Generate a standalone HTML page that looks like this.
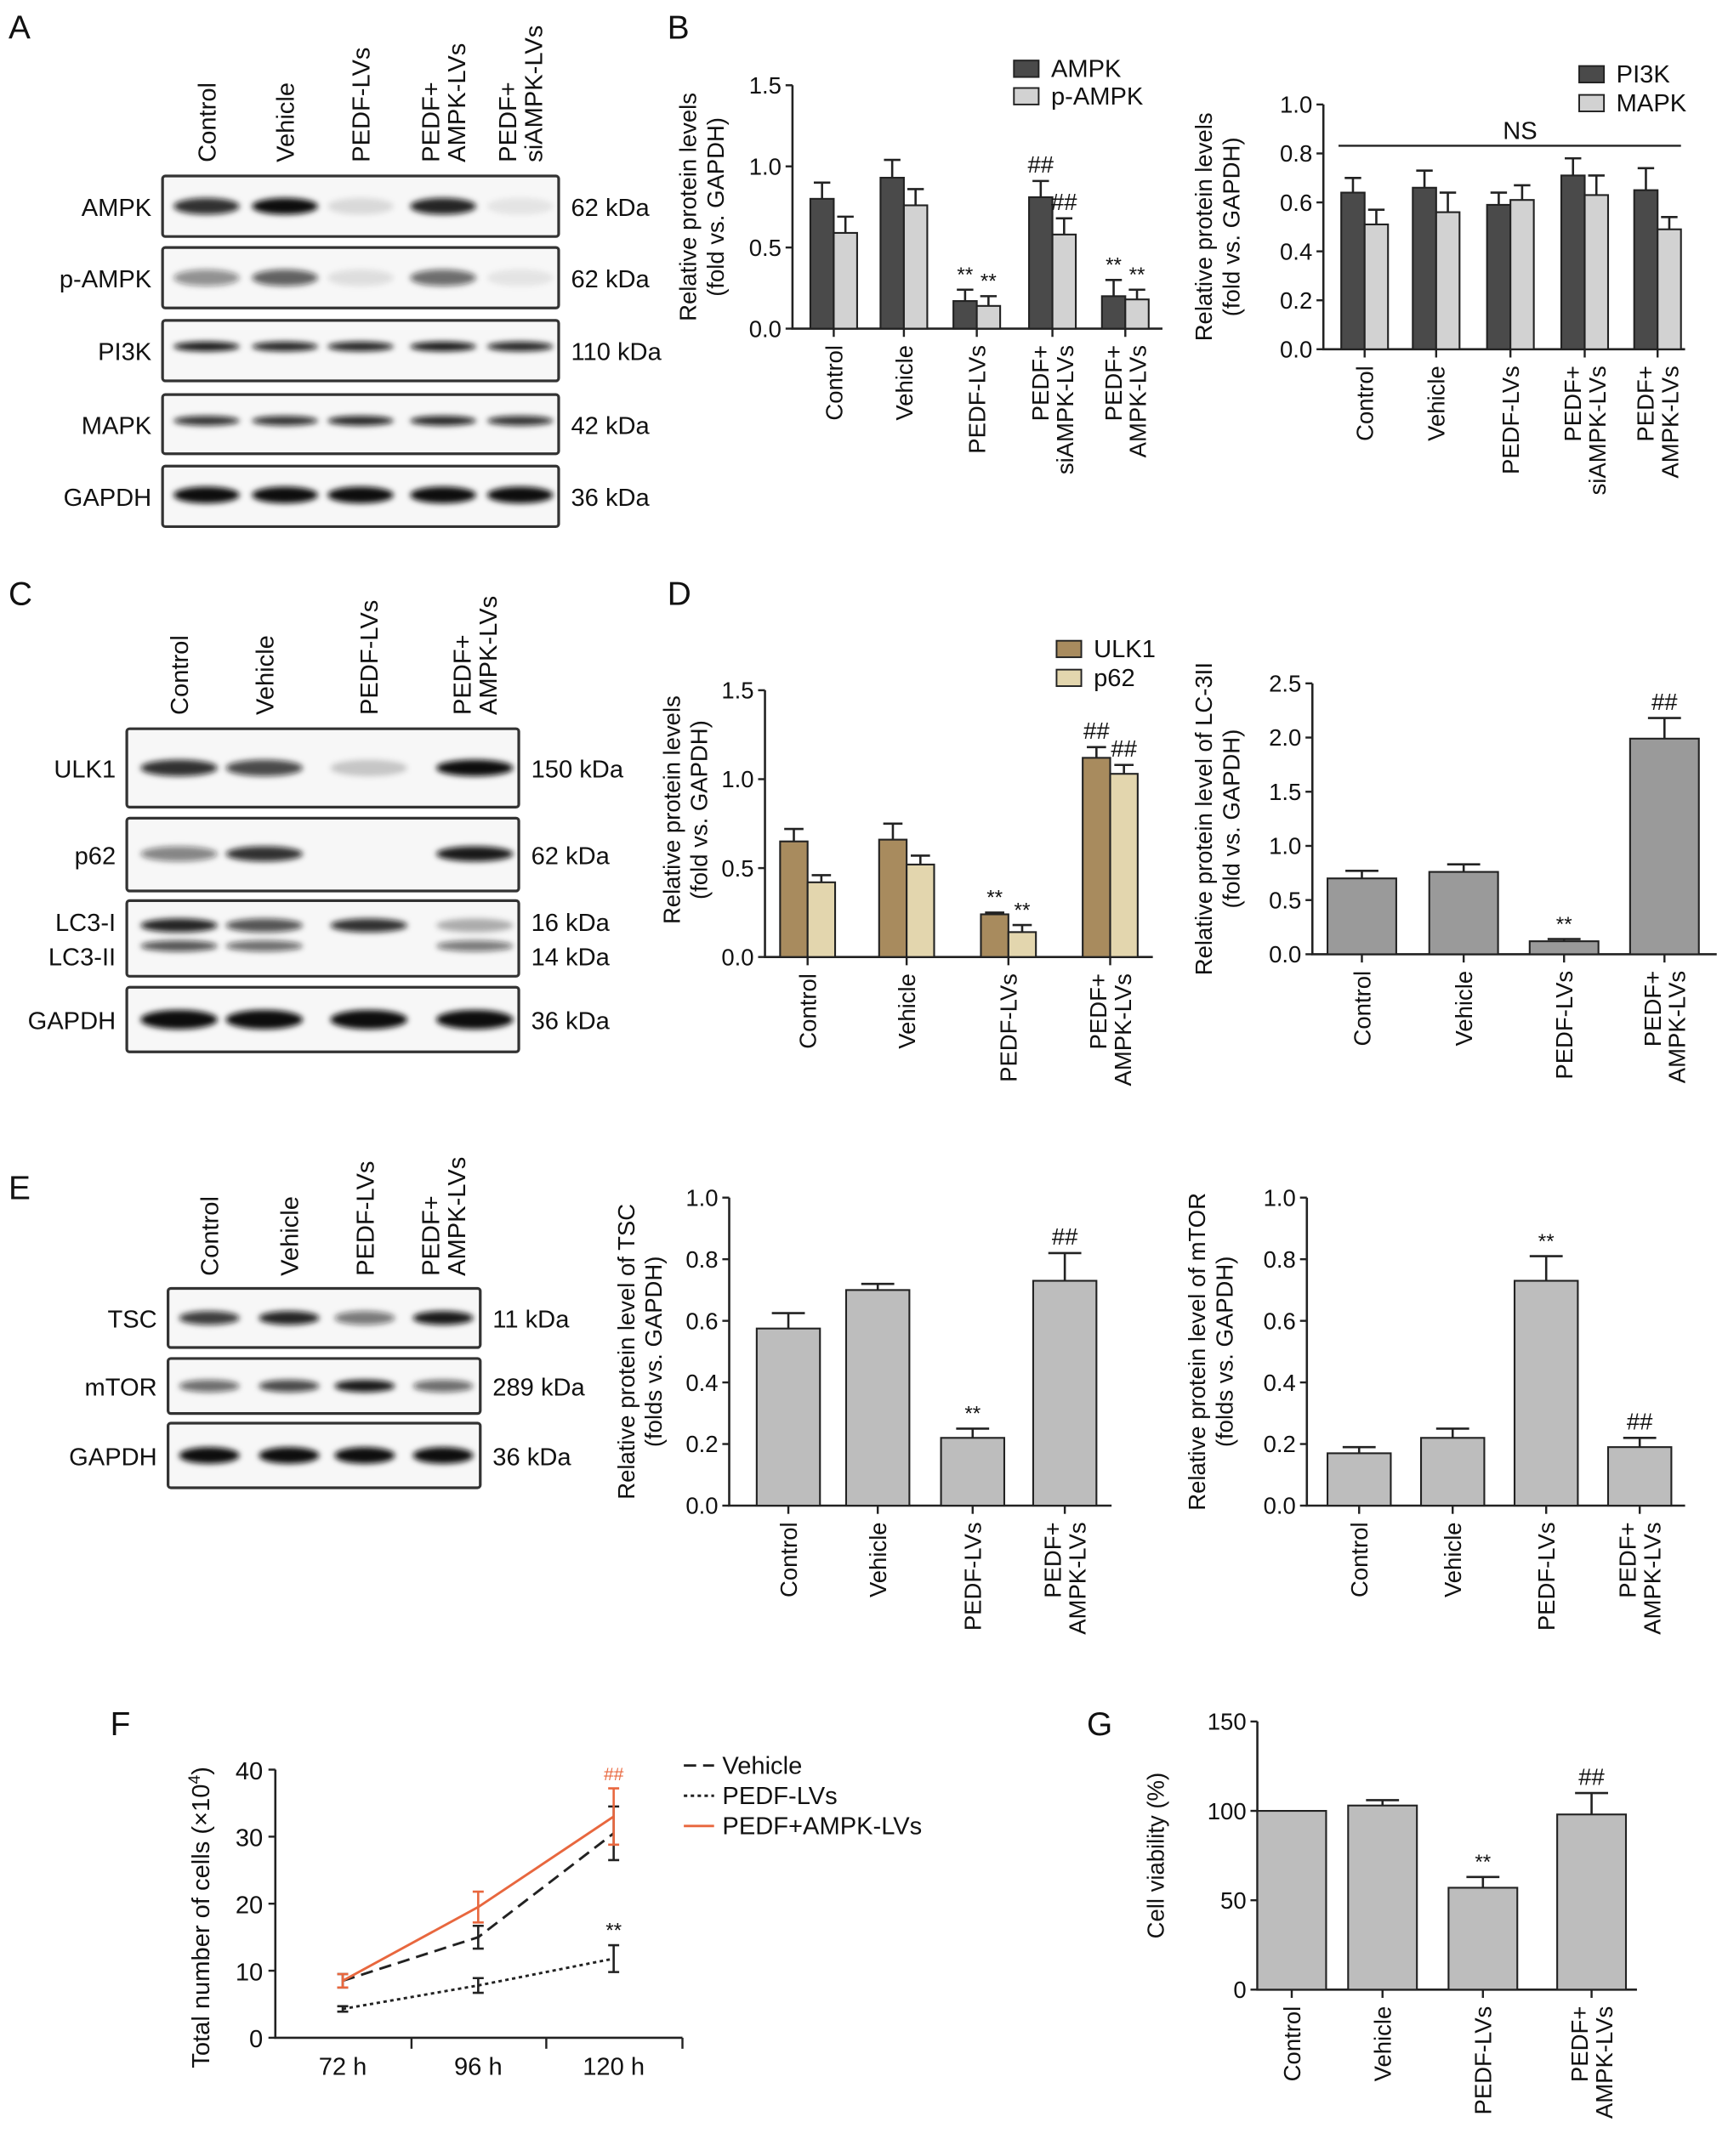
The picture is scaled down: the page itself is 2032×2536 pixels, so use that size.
<!DOCTYPE html>
<html><head><meta charset="utf-8">
<style>
html,body{margin:0;padding:0;background:#fff;}
svg{display:block;font-family:"Liberation Sans",Arial,sans-serif;}
</style></head>
<body>
<svg id="fig" width="2032" height="2536" viewBox="0 0 1256 1568" xmlns="http://www.w3.org/2000/svg">
<defs>
<filter id="blur" x="-20%" y="-100%" width="140%" height="300%"><feGaussianBlur stdDeviation="2.2"/></filter>
</defs>
<g id="root"></g>
</svg>
<script>
// ---------- DATA ----------
const groupsB1 = ["Control","Vehicle","PEDF-LVs","PEDF+|siAMPK-LVs","PEDF+|AMPK-LVs"];
const ampkVals = [0.80,0.93,0.17,0.81,0.20];
const ampkErr = [0.10,0.11,0.07,0.10,0.10];
const pampkVals = [0.59,0.76,0.14,0.58,0.18];
const pampkErr = [0.10,0.10,0.06,0.10,0.06];
const ampkMarks = ["","","**","##","**"];
const pampkMarks = ["","","**","##","**"];
const ticksB1 = ["0.0","0.5","1.0","1.5"];

const groupsB2 = ["Control","Vehicle","PEDF-LVs","PEDF+|siAMPK-LVs","PEDF+|AMPK-LVs"];
const pi3kVals = [0.64,0.66,0.59,0.71,0.65];
const pi3kErr = [0.06,0.07,0.05,0.07,0.09];
const mapkVals = [0.51,0.56,0.61,0.63,0.49];
const mapkErr = [0.06,0.08,0.06,0.08,0.05];
const ticksB2 = ["0.0","0.2","0.4","0.6","0.8","1.0"];

const groups4 = ["Control","Vehicle","PEDF-LVs","PEDF+|AMPK-LVs"];
const ulk1Vals = [0.65,0.66,0.24,1.12];
const ulk1Err = [0.07,0.09,0.01,0.06];
const p62Vals = [0.42,0.52,0.14,1.03];
const p62Err = [0.04,0.05,0.04,0.05];
const ticksD1 = ["0.0","0.5","1.0","1.5"];

const lc3Vals = [0.70,0.76,0.12,1.99];
const lc3Err = [0.07,0.07,0.02,0.19];
const ticksD2 = ["0.0","0.5","1.0","1.5","2.0","2.5"];

const tscVals = [0.575,0.70,0.22,0.73];
const tscErr = [0.05,0.02,0.03,0.09];
const mtorVals = [0.17,0.22,0.73,0.19];
const mtorErr = [0.02,0.03,0.08,0.03];
const ticksE = ["0.0","0.2","0.4","0.6","0.8","1.0"];

const timesF = ["72 h","96 h","120 h"];
const vehF = [8.5,15,30.5];
const vehFErr = [1,1.7,4];
const pedfF = [4.3,7.8,11.8];
const pedfFErr = [0.4,1.1,2];
const ampkF = [8.5,19.5,33];
const ampkFErr = [1,2.3,4.2];
const ticksF = ["0","10","20","30","40"];

const viabVals = [100,103,57,98];
const viabErr = [0,3,6,12];
const ticksG = ["0","50","100","150"];

// ---------- HELPERS ----------
const NS="http://www.w3.org/2000/svg";
const root=document.getElementById('root');
function mk(tag,attrs,parent,text){const e=document.createElementNS(NS,tag);for(const k in attrs)e.setAttribute(k,attrs[k]);if(text!==undefined)e.textContent=text;(parent||root).appendChild(e);return e;}
function txt(x,y,s,size,parent,anchor,extra){const e=mk('text',Object.assign({x:x,y:y,'font-size':size,'text-anchor':anchor||'start',fill:'#111'},extra||{}),parent,s);return e;}
function rotLabel(x,y,s,size,parent,anchor){
  const parts=s.split('|');const g=mk('g',{transform:`translate(${x},${y}) rotate(-90)`},parent);
  const lh=size*1.05;const n=parts.length;
  parts.forEach((p,i)=>{txt(0,(i-(n-1)/2)*lh+size*0.36,p,size,g,anchor||'end');});
  return g;
}

function barChart(o){
  const g=mk('g',{},root);
  
  
  const ymax=o.ymax, y=v=>o.y0-(v/ymax)*(o.y0-o.ytop);
  const ax=mk('path',{d:`M${o.x0},${o.ytop}V${o.y0}H${o.xend}`,stroke:'#222','stroke-width':1.6,fill:'none'},g);
  
  
  o.ticks.forEach((t,i)=>{const v=ymax*i/(o.ticks.length-1);const yy=y(v);
    mk('line',{x1:o.x0-5,x2:o.x0,y1:yy,y2:yy,stroke:'#222','stroke-width':1.5},g);
    const tl=txt(o.x0-8,yy+6,t,17,g,'end');
    
    
  });
  const yl=mk('g',{transform:`translate(${o.ylabX},${(o.y0+o.ytop)/2+o.ylabDy}) rotate(-90)`},g);
  
  
  o.ylab.forEach((l,i)=>txt(0,i*20-(o.ylab.length-1)*10+6,l,17,yl,'middle'));
  o.groups.forEach((gr,i)=>{
    const cx=o.centers[i];
    mk('line',{x1:cx,x2:cx,y1:o.y0,y2:o.y0+6,stroke:'#222','stroke-width':1.5},g);
    const lab=rotLabel(cx,o.y0+12,gr,17,g,'end');
    
    
    o.series.forEach((s,k)=>{
      const ns=o.series.length;
      const bx=cx+(k-(ns-1)/2)*o.bw-o.bw/2;
      const v=s.vals[i],e=s.err[i];
      const b=mk('rect',{x:bx,y:y(v),width:o.bw,height:o.y0-y(v),fill:s.color,stroke:'#222','stroke-width':1.3},g);
      
      
      const bc=bx+o.bw/2;
      if(e>0){mk('path',{d:`M${bc},${y(v)}V${y(v+e)}M${bc-o.capw},${y(v+e)}H${bc+o.capw}`,stroke:'#222','stroke-width':1.6,fill:'none'},g);}
      if(s.marks&&s.marks[i]){const m=txt(bc,y(v+e)-6,s.marks[i],s.marks[i]=='**'?15:17,g,'middle');
        
        }
    });
  });
  if(o.legend){o.legend.forEach((l,k)=>{
    const lg=mk('g',{},g);
    
    
    mk('rect',{x:l.x,y:l.y-11,width:18,height:12,fill:o.series[k].color,stroke:'#222','stroke-width':1.2},lg);
    txt(l.x+27,l.y+1,o.series[k].label,18,lg);
  });}
  return g;
}

function blot(o){
  const g=mk('g',{},root);
  
  
  o.lanes.forEach((lx,i)=>{const l=rotLabel(lx,o.headY,o.heads[i],18,g,'start');
    
    });
  o.rows.forEach(r=>{
    const rr=mk('rect',{x:o.x1,y:r.y1,width:o.x2-o.x1,height:r.y2-r.y1,fill:'#f7f7f7',stroke:'#333','stroke-width':2,rx:2},g);
    
    
    const cy=r.by||(r.y1+r.y2)/2;
    r.bands.forEach((b,i)=>{ if(b<=0) return;
      mk('ellipse',{cx:o.lanes[i],cy:cy,rx:o.bandW,ry:r.h||5,fill:'#111','fill-opacity':b,filter:'url(#blur)'},g);});
    if(r.bands2){r.bands2.forEach((b,i)=>{if(b<=0)return;mk('ellipse',{cx:o.lanes[i],cy:r.by2,rx:o.bandW,ry:4,fill:'#111','fill-opacity':b,filter:'url(#blur)'},g);});}
    r.label.split('|').forEach((lab,i,arr)=>{txt(o.x1-8,(r.y1+r.y2)/2+7+(i-(arr.length-1)/2)*25,lab,18,g,'end');});
    r.kda.split('|').forEach((k,i,arr)=>{txt(o.x2+9,(r.y1+r.y2)/2+7+(i-(arr.length-1)/2)*25,k,18,g,'start');});
  });
}
function panelLetter(x,y,s){const t=txt(x,y,s,24,root);}

// ---------- PANEL A ----------
panelLetter(6,28,'A');
blot({name:'blot-panel-a',x1:118,x2:406,lanes:[150,207,262,322,378],bandW:24,headY:118,
 heads:["Control","Vehicle","PEDF-LVs","PEDF+|AMPK-LVs","PEDF+|siAMPK-LVs"],
 rows:[{y1:128,y2:172,label:'AMPK',kda:'62 kDa',bands:[0.85,1,0.12,0.9,0.08],h:6},
       {y1:180,y2:224,label:'p-AMPK',kda:'62 kDa',bands:[0.45,0.65,0.1,0.6,0.08],h:6},
       {y1:233,y2:277,label:'PI3K',kda:'110 kDa',bands:[0.95,0.9,0.9,0.95,0.9],h:3.5,by:252},
       {y1:287,y2:330,label:'MAPK',kda:'42 kDa',bands:[0.85,0.85,0.9,0.9,0.85],h:3.5,by:306},
       {y1:339,y2:383,label:'GAPDH',kda:'36 kDa',bands:[1,1,1,1,1],h:6,by:360}]});

// ---------- PANEL B ----------
panelLetter(485,28,'B');
barChart({name:'chart-ampk',x0:576,y0:239,ytop:62,ymax:1.5,xend:845,ticks:ticksB1,groups:groupsB1,
 centers:[606,657,710,765,818],bw:17,capw:6,ylab:['Relative protein levels','(fold vs. GAPDH)'],ylabX:510,ylabDy:0,
 series:[{key:'ampk',label:'AMPK',color:'#4a4a4a',vals:ampkVals,err:ampkErr,marks:ampkMarks},
         {key:'p-ampk',label:'p-AMPK',color:'#d2d2d2',vals:pampkVals,err:pampkErr,marks:pampkMarks}],
 legend:[{x:737,y:55},{x:737,y:75}]});
barChart({name:'chart-pi3k-mapk',x0:962,y0:254,ytop:76,ymax:1.0,xend:1225,ticks:ticksB2,groups:groupsB2,
 centers:[992,1044,1098,1152,1205],bw:17,capw:6,ylab:['Relative protein levels','(fold vs. GAPDH)'],ylabX:885,ylabDy:0,
 series:[{key:'pi3k',label:'PI3K',color:'#4a4a4a',vals:pi3kVals,err:pi3kErr},
         {key:'mapk',label:'MAPK',color:'#d2d2d2',vals:mapkVals,err:mapkErr}],
 legend:[{x:1148,y:59},{x:1148,y:80}]});
mk('line',{x1:973,x2:1222,y1:106,y2:106,stroke:'#222','stroke-width':1.5});
txt(1105,101,'NS',18,root,'middle');

// ---------- PANEL C ----------
panelLetter(6,440,'C');
blot({name:'blot-panel-c',x1:92,x2:377,lanes:[130,192,268,345],bandW:28,headY:520,
 heads:["Control","Vehicle","PEDF-LVs","PEDF+|AMPK-LVs"],
 rows:[{y1:530,y2:587,label:'ULK1',kda:'150 kDa',bands:[0.85,0.75,0.2,1],h:6},
       {y1:595,y2:648,label:'p62',kda:'62 kDa',bands:[0.5,0.85,0,0.95],h:5.5,by:621},
       {y1:655,y2:710,label:'LC3-I|LC3-II',kda:'16 kDa|14 kDa',bands:[0.9,0.7,0.85,0.3],h:5,by:673,bands2:[0.7,0.6,0,0.55],by2:688},
       {y1:718,y2:765,label:'GAPDH',kda:'36 kDa',bands:[1,1,1,1],h:7}]});

// ---------- PANEL D ----------
panelLetter(485,440,'D');
barChart({name:'chart-ulk1-p62',x0:556,y0:696,ytop:502,ymax:1.5,xend:838,ticks:ticksD1,groups:groups4,
 centers:[587,659,733,807],bw:20,capw:7,ylab:['Relative protein levels','(fold vs. GAPDH)'],ylabX:498,ylabDy:-10,
 series:[{key:'ulk1',label:'ULK1',color:'#a88b5e',vals:ulk1Vals,err:ulk1Err,marks:['','','**','##']},
         {key:'p62',label:'p62',color:'#e3d6ae',vals:p62Vals,err:p62Err,marks:['','','**','##']}],
 legend:[{x:768,y:477},{x:768,y:498}]});
barChart({name:'chart-lc3ii',x0:954,y0:694,ytop:497,ymax:2.5,xend:1248,ticks:ticksD2,groups:groups4,
 centers:[990,1064,1137,1210],bw:50,capw:12,ylab:['Relative protein level of LC-3II','(fold vs. GAPDH)'],ylabX:885,ylabDy:0,
 series:[{key:'lc3ii',label:'LC3II',color:'#9a9a9a',vals:lc3Vals,err:lc3Err,marks:['','','**','##']}]});

// ---------- PANEL E ----------
panelLetter(6,872,'E');
blot({name:'blot-panel-e',x1:122,x2:349,lanes:[152,210,265,322],bandW:22,headY:928,
 heads:["Control","Vehicle","PEDF-LVs","PEDF+|AMPK-LVs"],
 rows:[{y1:937,y2:980,label:'TSC',kda:'11 kDa',bands:[0.8,0.9,0.55,0.95],h:5},
       {y1:988,y2:1028,label:'mTOR',kda:'289 kDa',bands:[0.6,0.75,0.95,0.6],h:4.5},
       {y1:1035,y2:1082,label:'GAPDH',kda:'36 kDa',bands:[1,1,1,1],h:6}]});
barChart({name:'chart-tsc',x0:530,y0:1095,ytop:871,ymax:1.0,xend:808,ticks:ticksE,groups:groups4,
 centers:[573,638,707,774],bw:46,capw:12,ylab:['Relative protein level of TSC','(folds vs. GAPDH)'],ylabX:465,ylabDy:0,
 series:[{key:'tsc',label:'TSC',color:'#bdbdbd',vals:tscVals,err:tscErr,marks:['','','**','##']}]});
barChart({name:'chart-mtor',x0:950,y0:1095,ytop:871,ymax:1.0,xend:1225,ticks:ticksE,groups:groups4,
 centers:[988,1056,1124,1192],bw:46,capw:12,ylab:['Relative protein level of mTOR','(folds vs. GAPDH)'],ylabX:880,ylabDy:0,
 series:[{key:'mtor',label:'mTOR',color:'#bdbdbd',vals:mtorVals,err:mtorErr,marks:['','','**','##']}]});

// ---------- PANEL F ----------
panelLetter(80,1262,'F');
(function(){
  const g=mk('g',{},root);
  
  
  const x0=200,y0=1482,ytop=1287,ymax=40;
  const y=v=>y0-(v/ymax)*(y0-ytop);
  const xs=i=>249+i*98.5;
  mk('path',{d:`M${x0},${ytop}V${y0}H496`,stroke:'#222','stroke-width':1.6,fill:'none'},g);
  ticksF.forEach((t,i)=>{const yy=y(ymax*i/(ticksF.length-1));mk('line',{x1:x0-5,x2:x0,y1:yy,y2:yy,stroke:'#222','stroke-width':1.5},g);txt(x0-9,yy+7,t,18,g,'end');});
  [299,397,496].forEach(tx=>mk('line',{x1:tx,x2:tx,y1:y0,y2:y0+8,stroke:'#222','stroke-width':1.5},g));
  timesF.forEach((t,i)=>{const l=txt(xs(i),y0+27,t,18,g,'middle');});
  const yl=mk('g',{transform:`translate(152,${(y0+ytop)/2+10}) rotate(-90)`},g);
  
  
  const yt=txt(0,0,'Total number of cells (×10',18,yl,'middle');
  mk('tspan',{dy:-7,'font-size':12},yt,'4');mk('tspan',{dy:7},yt,')');
  const series=[{k:'vehicle',v:vehF,e:vehFErr,c:'#222',d:'9,5'},{k:'pedf-lvs',v:pedfF,e:pedfFErr,c:'#222',d:'2.5,2.5'},{k:'pedf-ampk-lvs',v:ampkF,e:ampkFErr,c:'#e8673e',d:''}];
  series.forEach(s=>{
    const p=mk('polyline',{points:s.v.map((v,i)=>xs(i)+','+y(v)).join(' '),fill:'none',stroke:s.c,'stroke-width':1.8,'stroke-dasharray':s.d},g);
    
    
    s.v.forEach((v,i)=>{const x=xs(i);mk('path',{d:`M${x},${y(v-s.e[i])}V${y(v+s.e[i])}M${x-4},${y(v-s.e[i])}H${x+4}M${x-4},${y(v+s.e[i])}H${x+4}`,stroke:s.c,'stroke-width':1.6,fill:'none'},g);});
  });
  txt(xs(2),y(pedfF[2]+pedfFErr[2])-6,'**',15,g,'middle');
  txt(xs(2),y(ampkF[2]+ampkFErr[2])-6,'##',13,g,'middle',{fill:'#e8673e'});
  const leg=[['Vehicle','#222','9,5'],['PEDF-LVs','#222','2.5,2.5'],['PEDF+AMPK-LVs','#e8673e','']];
  leg.forEach((l,i)=>{const lg=mk('g',{},g);
    const yy=1284+i*22;mk('line',{x1:497,x2:519,y1:yy,y2:yy,stroke:l[1],'stroke-width':1.8,'stroke-dasharray':l[2]},lg);txt(525,yy+6,l[0],18,lg);});
})();

// ---------- PANEL G ----------
panelLetter(790,1262,'G');
barChart({name:'chart-cell-viability',x0:914,y0:1447,ytop:1252,ymax:150,xend:1190,ticks:ticksG,groups:groups4,
 centers:[939,1005,1078,1157],bw:50,capw:12,ylab:['Cell viability (%)'],ylabX:840,ylabDy:0,
 series:[{key:'viability',label:'Viability',color:'#bdbdbd',vals:viabVals,err:viabErr,marks:['','','**','##']}]});
</script>
</body></html>
